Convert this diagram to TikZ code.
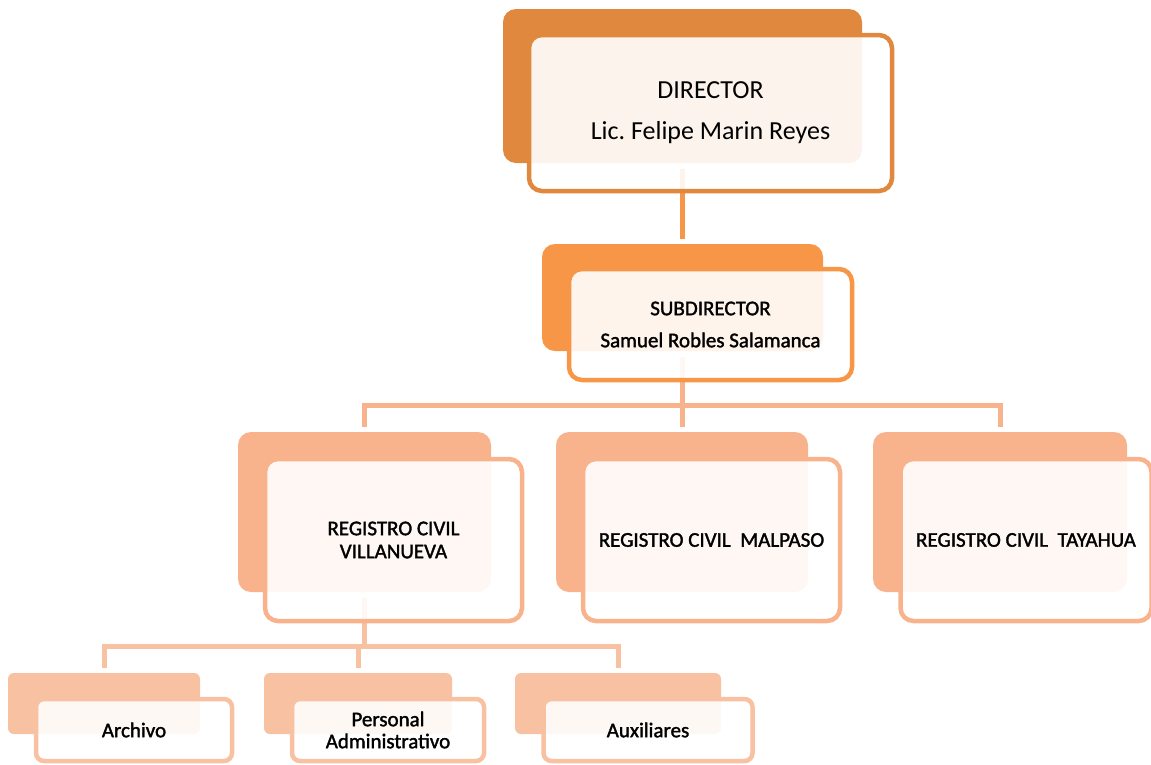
\documentclass[tikz,border=0pt]{standalone}
\usepackage{fontspec}
\setmainfont{Carlito}
\newfontfamily\boxFont{Carlito}[FakeBold=1.6]
\usetikzlibrary{backgrounds}
\definecolor{dirOrange}{rgb}{0.878,0.533,0.243}
\definecolor{subOrange}{rgb}{0.969,0.588,0.275}
\definecolor{regOrange}{rgb}{0.973,0.702,0.553}
\definecolor{auxOrange}{rgb}{0.973,0.757,0.635}

\begin{document}
\begin{tikzpicture}[x=1pt,y=-1pt,
  backBox/.style={fill=#1,inner sep=0pt,rounded corners=13pt},
  frontBox/.style={draw=#1,line width=4.5pt,fill=white,fill opacity=.9,text opacity=1,inner sep=0pt,rounded corners=13pt,align=center},
  link/.style={draw=#1,line width=5pt,shorten <=5.5pt,shorten >=5pt}]

\useasboundingbox (0,0) rectangle (1151,764);

% draw the director
\node[backBox=dirOrange,minimum width=359pt,minimum height=154pt] (dir-b) at (682.5,86) {};
\node[frontBox=dirOrange,minimum width=363pt,minimum height=156pt,font=\fontsize{26}{41}\selectfont] (dir) at ([shift={(28,27)}]dir-b.center) {DIRECTOR\\Lic.\ Felipe Marin Reyes};

% draw the subdirector
\node[backBox=subOrange,minimum width=281pt,minimum height=107pt] (sub-b) at (682.5,297.5) {};
\node[frontBox=subOrange,minimum width=283pt,minimum height=111pt,font=\boxFont\fontsize{21}{32}\selectfont] (sub) at ([shift={(28,27)}]sub-b.center) {SUBDIRECTOR\\Samuel Robles Salamanca};

% draw the registros
\foreach \nm/\x/\bw/\fw/\dx/\txt in {
  vill/364.5/253/257/29/{REGISTRO CIVIL\\VILLANUEVA},
  malp/682/252/257/29.5/{REGISTRO CIVIL\ \ MALPASO},
  taya/1000/254/251/26/{REGISTRO CIVIL\ \ TAYAHUA}}
{
  \node[backBox=regOrange,minimum width=\bw pt,minimum height=160pt] (\nm-b) at (\x,512) {};
  \node[frontBox=regOrange,minimum width=\fw pt,minimum height=162pt,font=\boxFont\fontsize{21}{23}\selectfont] (\nm) at ([shift={(\dx,28)}]\nm-b.center) {\txt};
}

% draw the offices of villanueva
\foreach \nm/\x/\bw/\fw/\txt in {
  arch/104/192/196/{Archivo},
  pers/358/188/192/{Personal\\Administrativo},
  auxi/618/206/209/{Auxiliares}}
{
  \node[backBox=auxOrange,rounded corners=6pt,minimum width=\bw pt,minimum height=61pt] (\nm-b) at (\x,703.5) {};
  \node[frontBox=auxOrange,rounded corners=8pt,minimum width=\fw pt,minimum height=62pt,font=\boxFont\fontsize{21}{22}\selectfont] (\nm) at ([shift={(30,26.5)}]\nm-b.center) {\txt};
}

% draw the links
\begin{scope}[on background layer]
\draw[link=subOrange] (dir-b.south) -- (sub-b.north);
\foreach \nm in {vill,malp,taya}
  \draw[link=regOrange] (sub-b.south) -- ++(0,54.5) -| (\nm-b.north);
\foreach \nm in {arch,pers,auxi}
  \draw[link=auxOrange] (vill-b.south) -- ++(0,54.5) -| (\nm-b.north);
\end{scope}

\end{tikzpicture}
\end{document}
